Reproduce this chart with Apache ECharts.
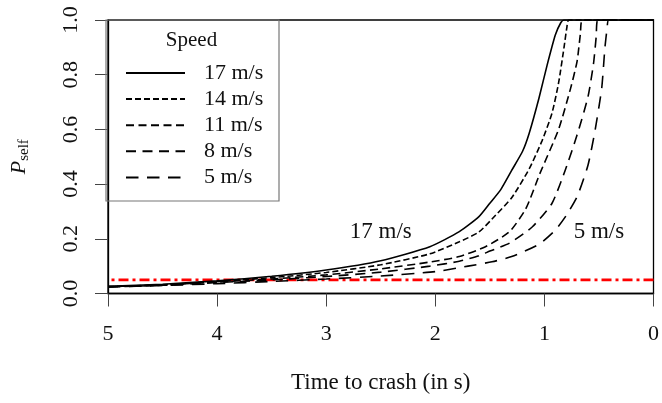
<!DOCTYPE html>
<html>
<head>
<meta charset="utf-8">
<script src="https://cdn.jsdelivr.net/npm/echarts@6/dist/echarts.min.js"></script>
<style>
html,body{margin:0;padding:0;background:#fff;}
#chart{width:662px;height:403px;}
</style>
</head>
<body>
<div id="chart"></div>
<script>
// ---- data (time to crash in s, probability P_self) ----
const speedNames = ['17 m/s', '14 m/s', '11 m/s', '8 m/s', '5 m/s'];

const t17 = [5, 4.5, 4, 3.5, 3, 2.5, 2.05, 1.78, 1.6, 1.5, 1.4, 1.3, 1.2, 1.14, 1.05, 0.975, 0.9, 0.85, 0.82, 0];
const p17 = [0.026, 0.034, 0.046, 0.063, 0.086, 0.12, 0.171, 0.226, 0.281, 0.33, 0.38, 0.45, 0.52, 0.585, 0.714, 0.835, 0.945, 0.99, 1.0, 1.0];

const t14 = [5, 4.5, 4, 3.5, 3, 2.5, 2.05, 1.78, 1.6, 1.45, 1.3, 1.14, 1.02, 0.93, 0.87, 0.82, 0.795, 0.775, 0];
const p14 = [0.025, 0.032, 0.044, 0.058, 0.077, 0.105, 0.145, 0.189, 0.225, 0.285, 0.35, 0.455, 0.56, 0.66, 0.77, 0.9, 0.97, 1.0, 1.0];

const t11 = [5, 4.5, 4, 3.5, 3, 2.5, 2.05, 1.78, 1.54, 1.32, 1.17, 1.04, 0.87, 0.76, 0.70, 0.67, 0.65, 0];
const p11 = [0.025, 0.031, 0.042, 0.053, 0.068, 0.09, 0.115, 0.135, 0.171, 0.226, 0.31, 0.44, 0.6, 0.75, 0.85, 0.95, 1.0, 1.0];

const t8 = [5, 4.5, 4, 3.5, 3, 2.5, 2.05, 1.78, 1.6, 1.5, 1.32, 1.11, 0.93, 0.81, 0.7, 0.6, 0.55, 0.525, 0.51, 0];
const p8 = [0.024, 0.03, 0.04, 0.05, 0.062, 0.078, 0.1, 0.118, 0.138, 0.155, 0.184, 0.244, 0.33, 0.45, 0.58, 0.72, 0.84, 0.94, 1.0, 1.0];

const t5 = [5, 4.5, 4, 3.5, 3, 2.5, 2, 1.7, 1.48, 1.3, 1.05, 0.9, 0.8, 0.7, 0.6, 0.535, 0.475, 0.445, 0.425, 0.41, 0];
const p5 = [0.024, 0.029, 0.036, 0.044, 0.053, 0.064, 0.08, 0.1, 0.116, 0.135, 0.18, 0.232, 0.285, 0.354, 0.47, 0.598, 0.75, 0.9, 0.97, 1.0, 1.0];

const refT = [0, 5];
const refP = [0.05, 0.05];

const annoT = [2.5, 0.5];
const annoP = [0.225, 0.225];
const annoText = ['17 m/s', '5 m/s'];

const xTicks = [0, 1, 2, 3, 4, 5];
const yTicks = ['0.0', '0.2', '0.4', '0.6', '0.8', '1.0'];

// ---- build ----
const zip = (a, b) => a.map((v, i) => [v, b[i]]);
const curves = [[t17, p17], [t14, p14], [t11, p11], [t8, p8], [t5, p5]];
const dashes = ['solid', [6, 3], [8, 4.5], [10, 6.5], [12.5, 8.5]];
const FONT = '"Liberation Serif", "Times New Roman", serif';

const series = curves.map((c, i) => ({
  name: speedNames[i],
  type: 'line',
  data: zip(c[0], c[1]),
  showSymbol: false,
  symbol: 'none',
  smooth: 0.2,
  lineStyle: { color: '#000', width: 1.6, type: dashes[i] },
  itemStyle: { color: '#000' },
  z: 3,
  animation: false
}));

series.push({
  name: 'ref',
  type: 'line',
  data: zip(refT, refP),
  symbol: 'none',
  lineStyle: { color: '#ff0000', width: 2.6, type: [10, 4, 3, 4] },
  z: 2,
  animation: false
});

series.push({
  name: 'anno',
  type: 'scatter',
  data: annoT.map((t, i) => [t, annoP[i], annoText[i]]),
  symbolSize: 0,
  itemStyle: { opacity: 1, color: '#000' },
  label: {
    show: true,
    position: 'inside',
    formatter: p => p.data[2],
    fontFamily: FONT,
    fontSize: 23,
    color: '#111',
    opacity: 1
  },
  animation: false
});

const chart = echarts.init(document.getElementById('chart'), null, { renderer: 'canvas' });
chart.setOption({
  animation: false,
  backgroundColor: '#fff',
  grid: {
    left: 106, right: 6.5, top: 20, bottom: 109.5,
    show: true, borderColor: '#000', borderWidth: 1.3, backgroundColor: 'transparent'
  },
  xAxis: {
    type: 'value', min: 0, max: 5, interval: 1, inverse: true,
    name: 'Time to crash (in s)', nameLocation: 'middle', nameGap: 78,
    nameTextStyle: { fontFamily: FONT, fontSize: 23, color: '#111' },
    axisLine: { show: true, onZero: false, lineStyle: { color: '#000', width: 1.3 } },
    axisTick: { show: true, length: 13, lineStyle: { color: '#444', width: 1 } },
    axisLabel: { margin: 30, fontFamily: FONT, fontSize: 22, color: '#111',
      formatter: v => String(xTicks[xTicks.indexOf(v)]) },
    splitLine: { show: false }
  },
  yAxis: {
    type: 'value', min: 0, max: 1, interval: 0.2,
    name: '{p|P}{s|self}', nameLocation: 'middle', nameGap: 76, nameRotate: 90,
    nameTextStyle: {
      fontFamily: FONT, color: '#111',
      rich: {
        p: { fontFamily: FONT, fontStyle: 'italic', fontSize: 22, lineHeight: 26, color: '#111', verticalAlign: 'middle' },
        s: { fontFamily: FONT, fontSize: 15, lineHeight: 12, color: '#111', verticalAlign: 'bottom' }
      }
    },
    axisLine: { show: true, onZero: false, lineStyle: { color: '#000', width: 1.3 } },
    axisTick: { show: true, length: 13, lineStyle: { color: '#444', width: 1 } },
    axisLabel: { rotate: 90, margin: 26, fontFamily: FONT, fontSize: 22, color: '#111',
      formatter: v => yTicks[Math.round(v * 5)] },
    splitLine: { show: false }
  },
  legend: {
    data: speedNames,
    orient: 'vertical',
    left: 125, top: 62,
    padding: 0,
    itemWidth: 59, itemHeight: 14, itemGap: 4.1,
    itemStyle: { opacity: 0 },
    lineStyle: { opacity: 1 },
    textStyle: { fontFamily: FONT, fontSize: 22, lineHeight: 20, color: '#111', padding: [0, 0, 0, 14] },
    selectedMode: false
  },
  graphic: [
    { type: 'rect', shape: { x: 106, y: 20, width: 173, height: 181 },
      style: { fill: 'none', stroke: '#777', lineWidth: 1.2 }, z: 10, silent: true },
    { type: 'text', style: { x: 191.5, y: 40, text: 'Speed', fontFamily: FONT, fontSize: 21,
      fill: '#111', textAlign: 'center', textVerticalAlign: 'middle' }, z: 10, silent: true }
  ],
  series: series
});
</script>
</body>
</html>
